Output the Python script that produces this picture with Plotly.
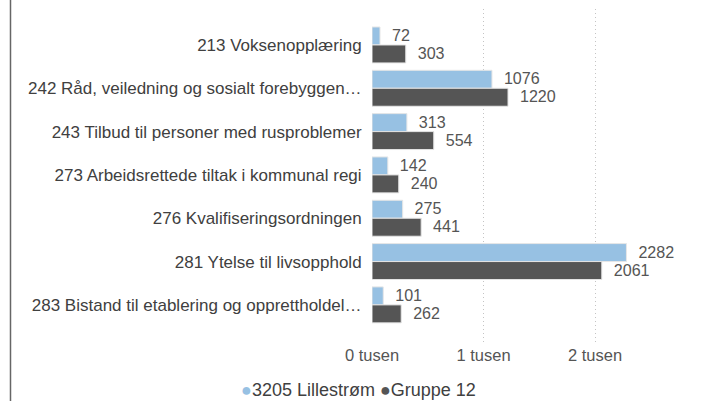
import plotly.graph_objects as go

categories = [
    "213 Voksenopplæring",
    "242 Råd, veiledning og sosialt forebyggen…",
    "243 Tilbud til personer med rusproblemer",
    "273 Arbeidsrettede tiltak i kommunal regi",
    "276 Kvalifiseringsordningen",
    "281 Ytelse til livsopphold",
    "283 Bistand til etablering og opprettholdel…",
]
lillestrom = [72, 1076, 313, 142, 275, 2282, 101]
gruppe12 = [303, 1220, 554, 240, 441, 2061, 262]
series_names = ["3205 Lillestrøm", "Gruppe 12"]
series_colors = ["#97C1E3", "#555555"]
tick_vals = [0, 1000, 2000]
tick_text = ["0 tusen", "1 tusen", "2 tusen"]

font = "Liberation Sans, Arial, sans-serif"

fig = go.Figure()
for name, vals, col in zip(series_names, [lillestrom, gruppe12], series_colors):
    fig.add_trace(go.Bar(
        y=categories, x=vals, orientation="h", name=name,
        marker=dict(color=col, line=dict(color="#E6E6E6", width=1)),
        text=[f"  {v}" for v in vals], textposition="outside",
        textfont=dict(family=font, size=17, color="#555555"),
        cliponaxis=False, showlegend=False,
    ))

# legend row: coloured dot followed by series name
legend_text = " ".join(
    f"<span style='color:{c}'>●</span>{n}"
    for n, c in zip(series_names, series_colors)
)

fig.update_layout(
    width=704, height=401,
    margin=dict(l=372, r=14, t=9, b=58),
    paper_bgcolor="white", plot_bgcolor="white",
    barmode="group", bargap=0.17, bargroupgap=0,
    font=dict(family=font, size=17, color="#404040"),
    showlegend=False,
    xaxis=dict(
        range=[0, 2852], tickvals=tick_vals, ticktext=tick_text,
        showgrid=True, gridcolor="#C4C4C4", griddash="1px,3px", gridwidth=1,
        zeroline=False, showline=False, ticks="",
        tickfont=dict(family=font, size=16.5, color="#555555"),
    ),
    yaxis=dict(
        categoryorder="array", categoryarray=categories,
        range=[6.88, -0.83], showgrid=False, zeroline=False,
        ticks="outside", ticklen=6, tickcolor="rgba(0,0,0,0)",
        tickfont=dict(family=font, size=17, color="#404040"),
    ),
    annotations=[dict(
        text=legend_text, xref="paper", yref="paper",
        x=-0.044, y=-0.141, xanchor="center", yanchor="middle",
        showarrow=False, font=dict(family=font, size=18, color="#404040"),
    )],
    shapes=[dict(
        type="line", xref="paper", yref="paper",
        x0=-1.1368, x1=-1.1368, y0=-0.3, y1=1.1,
        line=dict(color="#666666", width=1.5),
    )],
)

fig.write_html("out.html")
